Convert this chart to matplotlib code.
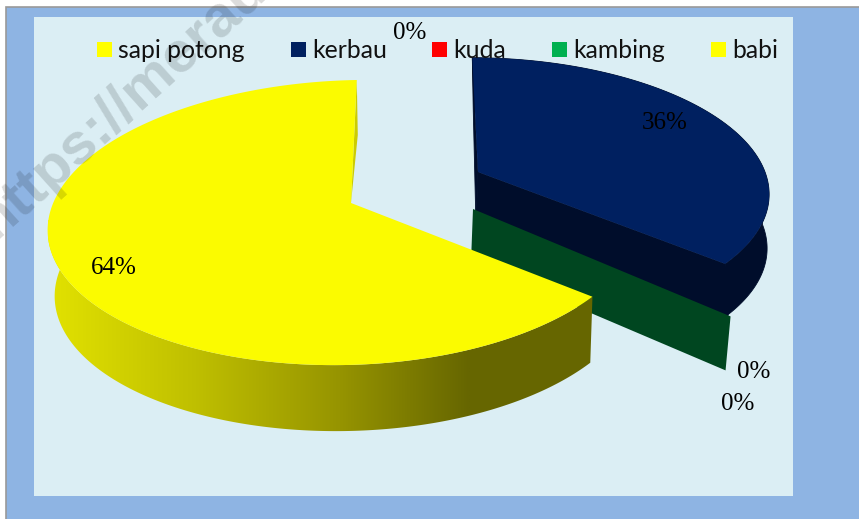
import numpy as np
import matplotlib
matplotlib.use('Agg')
import matplotlib.pyplot as plt
from matplotlib.patches import Rectangle, Polygon
from matplotlib.colors import LinearSegmentedColormap

# chart data
categories = ['sapi potong', 'kerbau', 'kuda', 'kambing', 'babi']
shares = [0, 36, 0, 0, 64]
legend_colors = ['#ffff00', '#002060', '#ff0000', '#00b050', '#ffff00']
label_pos = [(410, 33), (665, 123), (754, 372), (738, 404), (114, 268)]

START = 89.5   # first slice starts at the top, then clockwise
P = 0.137      # perspective of the tilted disc

FRAME = '#8eb4e3'
PLOT = '#dbeef4'


def project(theta, apex, m, k, d=0.0, s=0.0, e=0.0):
    """Tilted disc: angle in degrees -> picture pixels."""
    u = np.cos(np.radians(theta))
    v = np.sin(np.radians(theta))
    w = 1 + P * v
    return apex[0] + (m * u - d * u ** 2 + s * v) / w, apex[1] - (k * v + e * u) / w


# where each slice would start/end
ends = START - np.cumsum(shares) * 3.6
starts = np.concatenate([[START], ends[:-1]])
a_kerbau, b_kerbau = starts[1], ends[1]
a_kambing = starts[3]
a_babi, b_babi = starts[4], ends[4]

fig = plt.figure(figsize=(8.59, 5.19), dpi=100)
ax = fig.add_axes([0, 0, 1, 1])
ax.set_xlim(0, 859)
ax.set_ylim(519, 0)
ax.axis('off')

ax.add_patch(Rectangle((5.5, 6.5), 860, 520, fc=FRAME, ec='#999999', lw=1.2, zorder=0))
ax.add_patch(Rectangle((34, 17), 759, 479, fc=PLOT, ec='none', zorder=1))

# kerbau, exploded to the back right
apex_k = (478, 172)
t = np.linspace(a_kerbau, b_kerbau, 200)
x, y = project(t, apex_k, 287, 130, s=-9)
x2, y2 = project(t, (480, 226), 283, 130, s=-9)
side = list(zip(x, y)) + list(zip(x2[::-1], y2[::-1]))
ax.add_patch(Polygon(side, fc='#000d2b', ec='#000d2b', lw=0.6, zorder=2))
ex, ey = x[-1], y[-1]
ax.add_patch(Polygon([apex_k, (ex, ey), (ex + 3, ey + 54), (476, 226)], fc='#000d2b', ec='#000d2b', lw=0.6, zorder=2))
sx, sy = x[0], y[0]
ax.add_patch(Polygon([(sx, sy), apex_k, (476, 226), (sx + 1, sy + 54)], fc='#000d2b', ec='#000d2b', lw=0.6, zorder=2))
ax.add_patch(Polygon([apex_k] + list(zip(x, y)), fc='#002060', ec='none', zorder=3))

# kambing has no share, only its cut face shows
apex_g = (473, 209)
gx, gy = project(a_kambing, apex_g, 307, 152)
ax.add_patch(Polygon([apex_g, (gx, gy), (gx - 5, gy + 54), (471, 262)], fc='#004620', ec='none', zorder=4))

# babi
apex_b = (351, 203)
t = np.linspace(a_babi, b_babi, 400)
x, y = project(t, apex_b, 295, 139.8, d=5, s=4, e=6)
x2, y2 = project(t, (353, 269), 290, 139.8, d=5, s=4, e=6)

# inner sliver by the top cut
sx, sy = x[-1], y[-1]
ax.add_patch(Polygon([(sx, sy), (sx + 1, sy + 55), apex_b], fc='#cccc00', ec='none', zorder=5))

# outer wall with its shading
side = list(zip(x, y)) + list(zip(x2[::-1], y2[::-1]))
wall = Polygon(side, fc='none', ec='none', transform=ax.transData)
ax.add_patch(wall)
shade = LinearSegmentedColormap.from_list('wall', [(0, '#e2e200'), (0.35, '#bfbf00'), (0.7, '#959300'), (1, '#666600')])
im = ax.imshow(np.linspace(0, 1, 256)[None, :], cmap=shade, extent=(48, 470, 440, 220),
               aspect='auto', zorder=5.2)
im.set_clip_path(wall)
ax.fill_between([470, 600], 220, 440, color='#666600', lw=0, zorder=5.1, clip_path=wall)
ax.set_xlim(0, 859)
ax.set_ylim(519, 0)
ax.add_patch(Polygon([apex_b] + list(zip(x, y)), fc='#fbfb00', ec='none', zorder=6))

# legend
swatch_x = [97, 291, 432, 552, 711]
for name, col, sx in zip(categories, legend_colors, swatch_x):
    ax.add_patch(Rectangle((sx, 42), 15, 15, fc=col, ec='none', zorder=8))
    ax.text(sx + 21, 58, name, family='Lato', fontsize=17.8, color='#111111',
            ha='left', va='baseline', zorder=9)

# data labels
for share, (lx, ly) in zip(shares, label_pos):
    ax.text(lx, ly, f'{share}%', family='Liberation Serif', fontsize=18, color='black',
            ha='center', va='center', zorder=9)

# watermark across the corner
ax.text(-5, 240, 'https://merau', family='Liberation Sans', fontsize=42, weight='bold', color='black',
        alpha=0.14, rotation=42, ha='left', va='baseline', rotation_mode='anchor', zorder=10)

fig.savefig('out.png', dpi=100)
